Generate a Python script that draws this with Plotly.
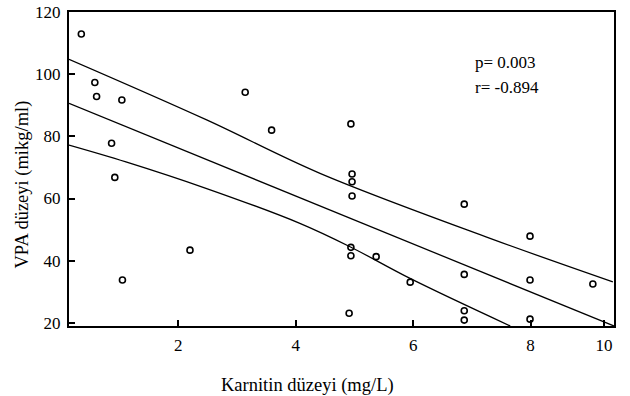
import plotly.graph_objects as go

# Scatter data: Karnitin (mg/L) vs VPA (mikg/ml)
karnitin = [0.35, 0.58, 0.61, 1.04, 0.865, 0.92, 1.05, 2.2, 3.14, 3.59,
            4.94, 4.96, 4.96, 4.96, 4.94, 4.94, 5.37, 4.91,
            6.87, 5.95, 6.87, 6.87, 6.87, 7.99, 7.99, 9.06, 7.99]
vpa = [112.9, 97.3, 92.8, 91.7, 77.8, 66.8, 33.8, 43.4, 94.2, 82.0,
       84.0, 67.9, 65.4, 60.8, 44.3, 41.6, 41.3, 23.1,
       58.2, 33.1, 35.6, 23.9, 20.9, 47.9, 33.8, 32.5, 21.2]

# Regression line and confidence bands
reg_x = [0.14, 9.42]
reg_y = [90.6, 19.0]
upper_x = [0.14, 2.484, 4.414, 7.31, 9.40]
upper_y = [104.8, 85.3, 68.1, 47.2, 33.2]
lower_x = [0.14, 1.109, 2.472, 4.061, 4.925, 5.947, 7.654]
lower_y = [77.2, 71.8, 63.3, 52.1, 44.5, 34.3, 19.0]

x_tick_vals = [2, 4, 6, 8, 9.25]
x_tick_text = ["2", "4", "6", "8", "10"]
y_tick_vals = [20, 40, 60, 80, 100, 120]
y_tick_text = ["20", "40", "60", "80", "100", "120"]

stats_text = ["p= 0.003", "r= -0.894"]

FONT = "Liberation Serif"

fig = go.Figure()
for lx, ly in [(upper_x, upper_y), (reg_x, reg_y), (lower_x, lower_y)]:
    fig.add_trace(go.Scatter(x=lx, y=ly, mode="lines",
                             line=dict(color="black", width=1.3,
                                       shape="spline", smoothing=1.0),
                             showlegend=False, hoverinfo="skip"))
fig.add_trace(go.Scatter(x=karnitin, y=vpa, mode="markers",
                         marker=dict(symbol="circle-open", size=6,
                                     color="black", line=dict(width=1.6)),
                         showlegend=False))

fig.update_layout(
    width=630, height=396,
    margin=dict(l=69, r=16, t=12, b=70),
    paper_bgcolor="white", plot_bgcolor="white",
    font=dict(family=FONT, size=17, color="black"),
    xaxis=dict(range=[0.14, 9.42], tickvals=x_tick_vals, ticktext=x_tick_text,
               ticks="inside", ticklen=6, tickwidth=1.5, tickcolor="black",
               showgrid=False, zeroline=False, showline=True, linecolor="black",
               linewidth=2, mirror=True, ticklabelstandoff=3, automargin=False,
               tickfont=dict(family=FONT, size=17)),
    yaxis=dict(range=[19, 120], tickvals=y_tick_vals, ticktext=y_tick_text,
               ticks="inside", ticklen=6, tickwidth=1.5, tickcolor="black",
               showgrid=False, zeroline=False, showline=True, linecolor="black",
               linewidth=2, mirror=True, ticklabelstandoff=3, automargin=False,
               tickfont=dict(family=FONT, size=17)),
)

fig.add_annotation(text="Karnitin düzeyi (mg/L)", xref="paper", yref="paper",
                   x=0.437, y=-0.188, xanchor="center", yanchor="middle",
                   showarrow=False, font=dict(family=FONT, size=18.5))
fig.add_annotation(text="VPA düzeyi (mikg/ml)", xref="paper", yref="paper",
                   x=-0.0862, y=0.4506, xanchor="center", yanchor="middle",
                   textangle=-90, showarrow=False,
                   font=dict(family=FONT, size=18.5))
fig.add_annotation(text=stats_text[0], xref="x", yref="y", x=7.02, y=103.6,
                   xanchor="left", yanchor="middle", showarrow=False,
                   font=dict(family=FONT, size=17))
fig.add_annotation(text=stats_text[1], xref="x", yref="y", x=7.02, y=95.6,
                   xanchor="left", yanchor="middle", showarrow=False,
                   font=dict(family=FONT, size=17))

fig.write_html("out.html", config={"displayModeBar": False},
               post_script="document.body.style.margin='0';")
